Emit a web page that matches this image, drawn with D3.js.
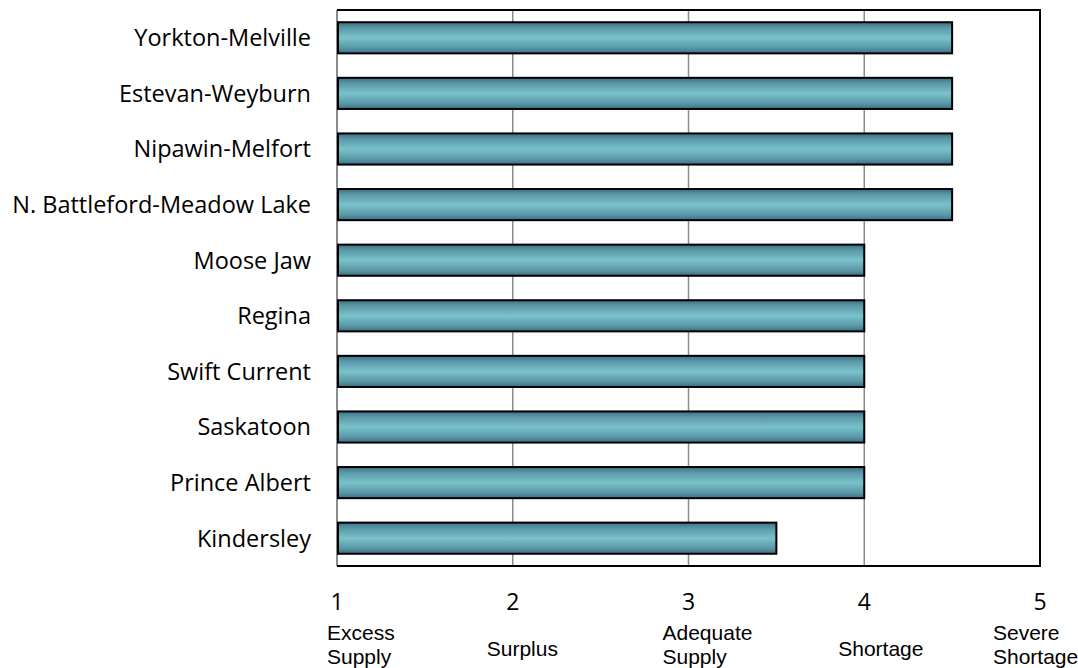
<!DOCTYPE html>
<html><head><meta charset="utf-8">
<script src="https://cdn.jsdelivr.net/npm/d3@7"></script>
<style>body{margin:0;background:#fff}</style>
</head><body>
<svg id="c" width="1078" height="668"></svg>
<script>
const categories = ["Yorkton-Melville","Estevan-Weyburn","Nipawin-Melfort","N. Battleford-Meadow Lake","Moose Jaw","Regina","Swift Current","Saskatoon","Prince Albert","Kindersley"];
const values = [4.5,4.5,4.5,4.5,4,4,4,4,4,3.5];
const tickValues = [1,2,3,4,5];
const tickDescriptions = [["Excess","Supply"],["Surplus"],["Adequate","Supply"],["Shortage"],["Severe","Shortage"]];

const svg = d3.select("#c");
const L=337, R=1040, T=10, B=566;
const x = d3.scaleLinear().domain([1,5]).range([L,R]);
const y = d3.scaleBand().domain(categories).range([T,B]).paddingInner(0.44).paddingOuter(0.22);

const defs = svg.append("defs");
const g = defs.append("linearGradient").attr("id","bg").attr("x1",0).attr("y1",0).attr("x2",0).attr("y2",1);
[[0,"#3b6f84"],[0.18,"#5a98a8"],[0.5,"#7ac2ca"],[0.82,"#5a98a8"],[1,"#3b6f84"]].forEach(s=>g.append("stop").attr("offset",s[0]).attr("stop-color",s[1]));

// gridlines
svg.append("g").selectAll("line").data(tickValues.slice(1,4)).join("line")
  .attr("x1",d=>x(d)).attr("x2",d=>x(d)).attr("y1",T).attr("y2",B)
  .attr("stroke","#8c8c8c").attr("stroke-width",1.5);

// frame
svg.append("line").attr("x1",L).attr("x2",L).attr("y1",T).attr("y2",B).attr("stroke","#8c8c8c").attr("stroke-width",2);
svg.append("path").attr("d",`M${L},${T}H${R}V${B}H${L}`).attr("fill","none").attr("stroke","#000").attr("stroke-width",2);

// bars
svg.append("g").selectAll("rect").data(categories).join("rect")
  .attr("x",x(1)+1).attr("y",d=>y(d))
  .attr("width",(d,i)=>x(values[i])-x(1)-1).attr("height",y.bandwidth())
  .attr("fill","url(#bg)").attr("stroke","#000").attr("stroke-width",2);

// category labels
svg.append("g").selectAll("text").data(categories).join("text")
  .attr("x",L-26).attr("y",d=>y(d)+y.bandwidth()/2).attr("dy","0.36em")
  .attr("text-anchor","end").attr("font-family","'Open Sans', sans-serif").attr("font-size",23.5).attr("fill","#000")
  .text(d=>d);

// tick numbers
svg.append("g").selectAll("text").data(tickValues).join("text")
  .attr("x",d=>x(d)).attr("y",610).attr("text-anchor","middle")
  .attr("font-family","'Open Sans', sans-serif").attr("font-size",23).attr("fill","#000")
  .text(d=>d);

// descriptions (left-aligned text boxes near each tick)
const offs=[-10,-26,-26,-26,-47];
const dg = svg.append("g");
tickDescriptions.forEach((lines,i)=>{
  const t = dg.append("text").attr("text-anchor","start")
    .attr("font-family","'Liberation Sans', Arial, sans-serif").attr("font-size",21).attr("fill","#000");
  const y0 = lines.length===1 ? 656 : 640;
  lines.forEach((s,j)=>t.append("tspan").attr("x",x(tickValues[i])+offs[i]).attr("y",y0+j*23.5).text(s));
});
</script>
</body></html>
